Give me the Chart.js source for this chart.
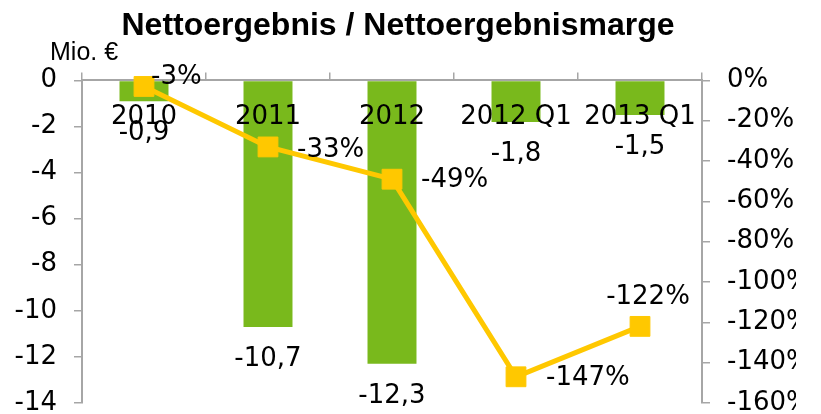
<!DOCTYPE html>
<html>
<head>
<meta charset="utf-8">
<script src="https://cdn.jsdelivr.net/npm/chart.js@4/dist/chart.umd.min.js"></script>
<style>
  html, body { margin: 0; padding: 0; background: #fff; overflow: hidden; }
</style>
</head>
<body>
<canvas id="chart" width="821" height="414"></canvas>
<script>
const categories = ['2010', '2011', '2012', '2012 Q1', '2013 Q1'];
const nettoergebnis = [-0.9, -10.7, -12.3, -1.8, -1.5];
const marge = [-3, -33, -49, -147, -122];

const GREEN = '#79b91c';
const YELLOW = '#ffc800';
const GRAY = '#a6a6a6';
const FONT = 'DejaVu Sans';

// where each margin label sits relative to its point
const margeLabelPos = [
    { align: 'left', dx: 7, dy: -9 },
    { align: 'left', dx: 29, dy: 3 },
    { align: 'left', dx: 29, dy: 1 },
    { align: 'left', dx: 30, dy: 1 },
    { align: 'center', dx: 8, dy: -29 }
];

const valueLabels = {
    id: 'valueLabels',
    afterDatasetsDraw: function (chart) {
        const ctx = chart.ctx;
        ctx.save();
        ctx.fillStyle = '#000';
        ctx.font = '26px "' + FONT + '"';
        ctx.textBaseline = 'middle';

        // bar values, below the end of each bar
        chart.getDatasetMeta(0).data.forEach(function (bar, i) {
            ctx.textAlign = 'center';
            ctx.fillText(String(nettoergebnis[i]).replace('.', ','), bar.x, bar.y + 32);
        });

        // margin values
        chart.getDatasetMeta(1).data.forEach(function (pt, i) {
            const p = margeLabelPos[i];
            ctx.textAlign = p.align;
            ctx.fillText(marge[i] + '%', pt.x + p.dx, pt.y + p.dy);
        });

        // unit label above the left axis
        ctx.font = '25px "Liberation Sans"';
        ctx.textAlign = 'left';
        ctx.fillText('Mio. €', 50, 53);
        ctx.restore();
    }
};

const tickFont = { family: FONT, size: 26 };

new Chart(document.getElementById('chart'), {
    type: 'bar',
    data: {
        labels: categories,
        datasets: [
            {
                type: 'bar',
                label: 'Nettoergebnis',
                data: nettoergebnis,
                backgroundColor: GREEN,
                yAxisID: 'y',
                categoryPercentage: 1,
                barPercentage: 0.395,
                order: 1
            },
            {
                type: 'line',
                label: 'Nettoergebnismarge',
                data: marge,
                borderColor: YELLOW,
                borderWidth: 5,
                backgroundColor: YELLOW,
                pointStyle: 'rect',
                pointRadius: 14,
                pointBorderWidth: 1,
                pointBackgroundColor: YELLOW,
                pointBorderColor: YELLOW,
                tension: 0,
                clip: false,
                yAxisID: 'y1',
                order: 0
            }
        ]
    },
    options: {
        responsive: false,
        animation: false,
        devicePixelRatio: 1,
        layout: { autoPadding: false, padding: { left: 0, right: 25, top: 0, bottom: 11 } },
        plugins: {
            legend: { display: false },
            tooltip: { enabled: false },
            title: {
                display: true,
                text: 'Nettoergebnis / Nettoergebnismarge',
                color: '#000',
                font: { family: 'Liberation Sans', size: 32, weight: 'bold' },
                padding: { top: 7, bottom: 27 }
            }
        },
        scales: {
            x: {
                position: 'top',
                offset: true,
                grid: {
                    offset: true,
                    drawOnChartArea: false,
                    drawTicks: true,
                    tickLength: 8,
                    color: GRAY,
                    lineWidth: 1.5
                },
                border: { display: true, color: GRAY, width: 2 },
                ticks: {
                    // category names sit inside the plot, over the bars
                    z: 1,
                    mirror: true,
                    padding: 21,
                    color: '#000',
                    font: tickFont,
                    maxRotation: 0,
                    autoSkip: false
                },
                afterFit: function (s) {
                    s.height = 8;
                    s.paddingLeft = 0;
                    s.paddingRight = 0;
                }
            },
            y: {
                position: 'left',
                min: -14,
                max: 0,
                ticks: { stepSize: 2, color: '#000', font: tickFont, padding: 17 },
                grid: { drawOnChartArea: false, tickLength: 8, color: GRAY, lineWidth: 1.5 },
                border: { display: true, color: GRAY, width: 2 },
                afterFit: function (s) {
                    s.width = 82;
                    s.paddingTop = 0;
                    s.paddingBottom = 0;
                }
            },
            y1: {
                position: 'right',
                min: -160,
                max: 0,
                ticks: {
                    stepSize: 20,
                    color: '#000',
                    font: tickFont,
                    padding: 17,
                    callback: function (v) { return v + '%'; }
                },
                grid: { drawOnChartArea: false, tickLength: 8, color: GRAY, lineWidth: 1.5 },
                border: { display: true, color: GRAY, width: 2 },
                afterFit: function (s) {
                    s.width = 94;
                    s.paddingTop = 0;
                    s.paddingBottom = 0;
                }
            }
        }
    },
    plugins: [valueLabels]
});
</script>
</body>
</html>
